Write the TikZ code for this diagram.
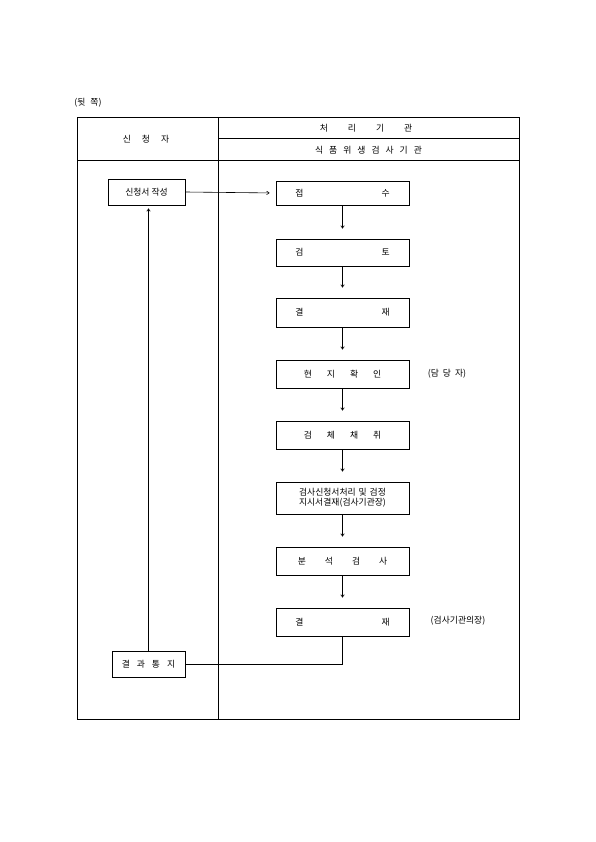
\documentclass[tikz,border=0pt]{standalone}
\usepackage{fontspec}
\setmainfont{Noto Sans CJK KR}
\usetikzlibrary{arrows.meta}
\begin{document}
\begin{tikzpicture}[x=1pt,y=-1pt,
  every node/.style={font=\fontsize{8.8}{10}\selectfont, inner sep=0pt},
  box/.style={draw, line width=0.7pt, minimum width=133pt, align=center},
  lbox/.style={draw, line width=0.7pt, align=center},
  conn/.style={line width=0.6pt},
  arr/.style={line width=0.6pt, -{Straight Barb[length=2.5pt,width=3.5pt]}, shorten >=10pt},
  tbl/.style={line width=0.7pt}]
\useasboundingbox[fill=white] (0,0) rectangle (595,842);
% table
\draw[tbl] (77,117) rectangle (519,719);
\draw[tbl] (218,117) -- (218,719);
\draw[tbl] (77,160) -- (519,160);
\draw[tbl] (218,138) -- (519,138);
\node (back) at (88,103) {(뒷\hspace{5pt}쪽)};
\node (h1) at (146,139) {신\hspace{11pt}청\hspace{11pt}자};
\node (h2) at (366,128) {처\hspace{20pt}리\hspace{20pt}기\hspace{20pt}관};
\node (h3) at (368.5,150) {식\hspace{6pt}품\hspace{6pt}위\hspace{6pt}생\hspace{6pt}검\hspace{6pt}사\hspace{6pt}기\hspace{6pt}관};
% right boxes
\node[box, minimum height=24pt] (b1) at (342.5,193) {접\hspace{78pt}수};
\node[box, minimum height=27pt] (b2) at (342.5,252.5) {검\hspace{78pt}토};
\node[box, minimum height=29pt] (b3) at (342.5,312.5) {결\hspace{78pt}재};
\node[box, minimum height=28pt] (b4) at (342.5,374) {현\hspace{15pt}지\hspace{15pt}확\hspace{15pt}인};
\node[box, minimum height=28pt] (b5) at (342.5,435) {검\hspace{15pt}체\hspace{15pt}채\hspace{15pt}취};
\node[box, minimum height=32pt, text width=133pt] (b6) at (342.5,498) {검사신청서처리 및 검정\\[0pt]지시서결재(검사기관장)};
\node[box, minimum height=28pt] (b7) at (342.5,561) {분\hspace{19pt}석\hspace{19pt}검\hspace{19pt}사};
\node[box, minimum height=28pt] (b8) at (342.5,622) {결\hspace{78pt}재};
\node (n1) at (447,374) {(담\hspace{4pt}당\hspace{4pt}자)};
\node (n2) at (458,621) {(검사기관의장)};
% left boxes
\node[lbox, minimum width=77pt, minimum height=26pt] (l1) at (146.5,192) {신청서 작성};
\node[lbox, minimum width=73pt, minimum height=26pt] (l2) at (148.5,664) {결\hspace{7pt}과\hspace{7pt}통\hspace{7pt}지};
% connectors
\draw[arr, shorten >=6pt] (l1.east) -- (b1.west);
\draw[arr] (b1.south) -- (b2.north);
\draw[arr] (b2.south) -- (b3.north);
\draw[arr] (b3.south) -- (b4.north);
\draw[arr] (b4.south) -- (b5.north);
\draw[arr] (b5.south) -- (b6.north);
\draw[arr] (b6.south) -- (b7.north);
\draw[arr] (b7.south) -- (b8.north);
\draw[conn] (b8.south) |- (l2.east);
\draw[arr, shorten >=3pt] (l2.north) -- (l2.north |- l1.south);
\end{tikzpicture}
\end{document}
